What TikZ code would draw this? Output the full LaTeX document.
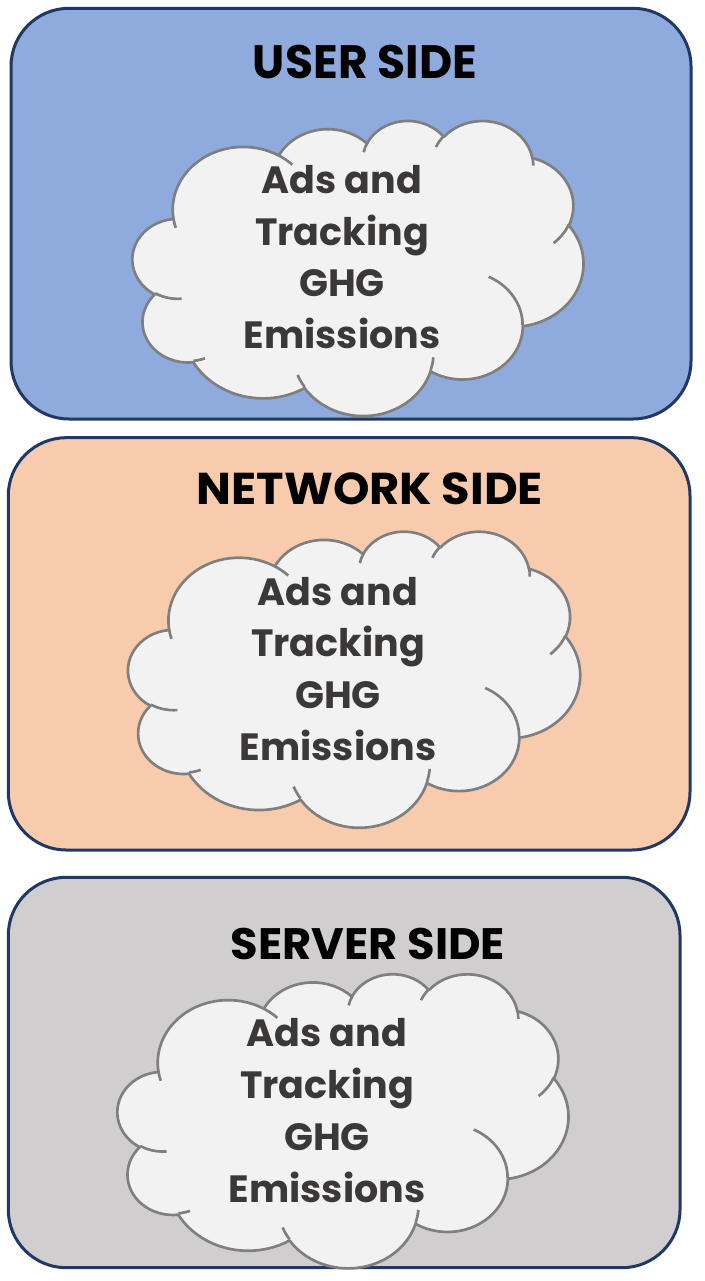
\documentclass[tikz,border=0pt]{standalone}
\usepackage{fontspec}
\setmainfont{Poppins}
\usepackage{graphicx}
\definecolor{bluefill}{HTML}{8FAADC}
\definecolor{peachfill}{HTML}{F8CBAD}
\definecolor{grayfill}{HTML}{D0CECE}
\definecolor{navy}{HTML}{1F3864}
\definecolor{cloudgray}{HTML}{7F7F7F}
\definecolor{cloudfill}{HTML}{F2F2F2}
\definecolor{textgray}{HTML}{3B3838}
\tikzset{
  panel/.style={draw=navy, line width=2.25pt, rounded corners=43.5pt},
  cloudline/.style={draw=cloudgray, line width=2pt, fill=cloudfill, line join=round},
  cloudarc/.style={draw=cloudgray, line width=2pt},
  titletext/.style={inner sep=0pt, text=black, font=\bfseries},
  cloudtext/.style={inner sep=0pt, text=textgray, font=\bfseries\fontsize{28.5}{34}\selectfont, anchor=base},
}
% OOXML-style elliptical arc: visual angles converted to parametric ones
\newcommand\ooarc[4]{arc[x radius=#1, y radius=#2,
  start angle={atan2(#1*sin(#3),#2*cos(#3))},
  delta angle={mod(atan2(#1*sin(#3+#4),#2*cos(#3+#4))-atan2(#1*sin(#3),#2*cos(#3))+720,360)}]}
\newcommand\drawcloud[4]{%
  \begin{scope}[shift={(#1,#2)}, x={(#3*0.75pt/432,0pt)}, y={(0pt,-#4*0.75pt/432)}]
    \path[cloudline] (39.00,143.70)
      \ooarc{67.53}{91.90}{-190.4875}{123.7805}
      \ooarc{53.33}{72.67}{-144.1024}{89.9452}
      \ooarc{43.65}{59.45}{-145.8079}{99.7230}
      \ooarc{48.57}{65.95}{-130.9861}{117.2417}
      \ooarc{53.33}{72.73}{-78.7089}{109.0269}
      \ooarc{67.75}{92.20}{-46.2673}{130.2690}
      \ooarc{57.85}{78.67}{0.6250}{114.0333}
      \ooarc{67.52}{92.15}{22.4516}{115.1726}
      \ooarc{77.20}{105.43}{66.2426}{75.7110}
      \ooarc{43.60}{59.18}{-274.9421}{146.7356}
      \ooarc{43.45}{59.45}{-246.8285}{152.5189}
      -- cycle;
    \path[cloudarc]
      (46.93,261.77) \ooarc{43.45}{59.45}{86.7420}{26.4295}
      (69.28,348.99) \ooarc{43.60}{59.18}{73.6105}{11.4475}
      (164.78,390.90) \ooarc{67.52}{92.15}{137.6242}{14.0811}
      (288.27,347.51) \ooarc{67.52}{92.15}{6.4533}{15.9984}
      (341.29,229.54) \ooarc{57.85}{78.67}{-70.2924}{70.9174}
      (417.98,153.54) \ooarc{53.33}{72.73}{30.3180}{27.7515}
      (383.24,54.26) \ooarc{48.57}{65.95}{-13.7443}{14.8589}
      (290.78,39.52) \ooarc{48.57}{65.95}{-149.1815}{18.1954}
      (221.41,47.20) \ooarc{43.65}{59.45}{-163.4943}{17.6864}
      (140.00,51.92) \ooarc{67.53}{91.90}{-66.7070}{12.3194}
      (41.27,157.89) \ooarc{67.53}{91.90}{157.6544}{11.8582};
  \end{scope}}
\newcommand\cloudlabel[3]{%
  \node[cloudtext] (#1a) at (#2,#3) {Ads and};
  \node[cloudtext] (#1b) at (#2,#3+51.8) {Tracking};
  \node[cloudtext] (#1c) at (#2,#3+103.6) {GHG};
  \node[cloudtext] (#1d) at (#2,#3+155.4) {Emissions};}
\begin{document}
\begin{tikzpicture}[x=0.75pt, y=-0.75pt]
  \useasboundingbox (0,0) rectangle (704,1281);
  % panels
  \path[panel, fill=bluefill]  (11,8.3)    rectangle (691,419);
  \path[panel, fill=peachfill] (8.3,437.7) rectangle (690,850);
  \path[panel, fill=grayfill]  (8.3,877.3) rectangle (680,1267.7);
  % titles
  \node[titletext] (user)    at (365,61.7)  {\resizebox{168pt}{25pt}{USER SIDE}};
  \node[titletext] (network) at (369.9,489.2) {\resizebox{259.7pt}{23.8pt}{NETWORK SIDE}};
  \node[titletext] (server)  at (367.9,943.7) {\resizebox{205.7pt}{23.5pt}{SERVER SIDE}};
  % clouds
  \drawcloud{132.7}{120}{450.6}{295}
  \drawcloud{128.3}{530.7}{451.7}{296}
  \drawcloud{117.7}{973.3}{450.6}{294}
  % cloud texts
  \cloudlabel{u}{342}{193.3}
  \cloudlabel{n}{338}{605}
  \cloudlabel{s}{327}{1046.7}
\end{tikzpicture}
\end{document}
